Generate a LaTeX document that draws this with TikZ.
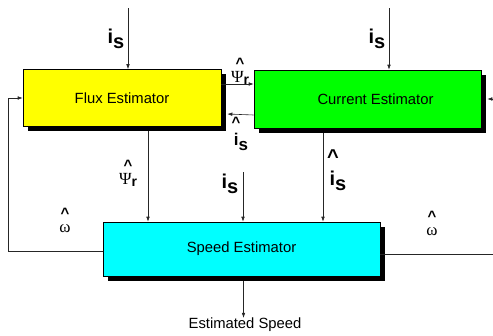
\documentclass[tikz,border=0pt]{standalone}
\usepackage{fontspec}
\setmainfont{Liberation Sans}
\newfontfamily\serf{Liberation Serif}
\usetikzlibrary{arrows.meta,shadows}
\definecolor{cyel}{RGB}{255,255,0}
\definecolor{cgrn}{RGB}{0,255,0}
\definecolor{ccyn}{RGB}{0,255,255}
\newcommand{\isub}{\textbf{i}\raisebox{-0.28em}{\textbf{s}}}
\newcommand{\hatc}{{\rmfamily\bfseries\fontsize{15}{14}\selectfont\textasciicircum}}
\newcommand{\psr}{\hatc\hspace{9pt}\\Ψ{\rmfamily\bfseries\fontsize{14}{14}\selectfont\raisebox{-2pt}{r}}}
\newcommand{\omh}{\hatc\\ω}
\begin{document}
\begin{tikzpicture}[x=1pt,y=-1pt,
  box/.style={draw=black, line width=0.6pt, inner sep=0pt,
    font=\fontsize{14.8}{16}\selectfont,
    drop shadow={shadow xshift=4.5pt, shadow yshift=-4.5pt, fill=black, opacity=1}},
  arr/.style={draw=black!85, line width=0.6pt, -{Latex[length=5pt,width=3.6pt]}},
  ln/.style={draw=black!85, line width=0.6pt},
  big/.style={inner sep=0pt, font=\fontsize{20}{22}\selectfont},
  mid/.style={inner sep=0pt, font=\fontsize{17}{19}\selectfont},
  car/.style={inner sep=0pt, font=\fontsize{15}{16}\selectfont\bfseries},
  gr/.style={inner sep=0pt, align=center, font=\fontsize{17}{14}\serf},
]
\useasboundingbox (0,0) rectangle (493,335);

\node[box, fill=cyel, minimum width=198pt, minimum height=57pt] (flux) at (122,98) {Flux Estimator};
\node[box, fill=cgrn, minimum width=227pt, minimum height=58pt] (cur) at (367.5,99) {\hspace{16pt}Current Estimator};
\node[box, fill=ccyn, minimum width=277pt, minimum height=54pt] (speed) at (241.5,249) {Speed Estimator};

% top inputs
\coordinate (in1) at (128,8);
\draw[arr] (in1) -- (in1 |- flux.north);
\node[big] (l1) at (116,39) {\isub};
\coordinate (in2) at (389,8);
\draw[arr] (in2) -- (in2 |- cur.north);
\node[big] (l2) at (377,39) {\isub};

% between flux and current
\draw[arr] ([yshift=14pt]flux.east) -- ([yshift=14pt]flux.east -| cur.west);
\node[gr] (p1) at (240,71) {\psr};
\draw[arr] ([yshift=-16pt]cur.west) -- ([yshift=-16pt,xshift=6pt]flux.east);
\node[car] (c2) at (236,122) {\textasciicircum};
\node[mid] (l3) at (241,142) {\isub};

% right input to current
\coordinate (in3) at (493,99);
\draw[arr] (in3) -- ([xshift=6pt]cur.east);

% flux to speed
\draw[arr] ([xshift=26pt,yshift=-4.5pt]flux.south) -- ([xshift=26pt]flux.south |- speed.north);
\node[gr] (p2) at (128,173) {\psr};

% current to speed
\draw[arr] ([xshift=-44.5pt,yshift=-4.5pt]cur.south) -- ([xshift=-44.5pt]cur.south |- speed.north);
\node[big] (c4) at (333,157) {\textbf{\textasciicircum}};
\node[big] (l4) at (338,181) {\isub};

% middle input
\coordinate (in4) at (243,172);
\draw[arr] (in4) -- (in4 |- speed.north);
\node[big] (l5) at (230,184) {\isub};

% feedback
\coordinate (fb) at (8,251);
\draw[arr] ([yshift=-2pt]speed.west) -- (fb) |- (flux.west);
\node[gr] (w1) at (65,220) {\omh};

% output right
\coordinate (out) at (493,254);
\draw[ln] ([yshift=-5pt]speed.east) -- (out);
\node[gr] (w2) at (432,223) {\omh};

% estimated speed
\node[inner sep=0pt, font=\fontsize{14.8}{16}\selectfont] (est) at (245,325) {Estimated Speed};
\draw[arr] ([xshift=2pt,yshift=-4.5pt]speed.south) -- ([xshift=2pt]speed.south |- est.north);
\end{tikzpicture}
\end{document}
